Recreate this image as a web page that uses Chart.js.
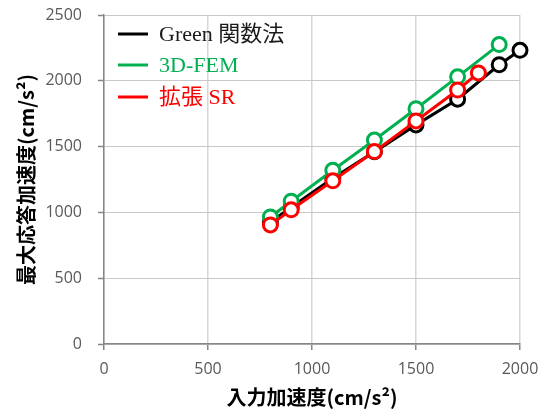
<!DOCTYPE html>
<html>
<head>
<meta charset="utf-8">
<script src="https://cdn.jsdelivr.net/npm/chart.js@4/dist/chart.umd.min.js"></script>
<style>
  html, body { margin: 0; padding: 0; background: #ffffff; }
  #wrap { width: 547px; height: 412px; }
</style>
</head>
<body>
<div id="wrap"><canvas id="c" width="547" height="412"></canvas></div>
<script>
// Input acceleration (cm/s²) for each series
const greenFnX = [800, 900, 1100, 1300, 1500, 1700, 1900, 2000];
const femX     = [800, 900, 1100, 1300, 1500, 1700, 1900];
const srX      = [800, 900, 1100, 1300, 1500, 1700, 1800];

// Maximum response acceleration (cm/s²)
const greenFnY = [925, 1040, 1260, 1460, 1665, 1860, 2122, 2232];
const femY     = [965, 1085, 1320, 1550, 1788, 2030, 2275];
const srY      = [905, 1020, 1240, 1462, 1695, 1930, 2060];

const seriesLabels = ['Green 関数法', '3D-FEM', '拡張 SR'];
const seriesColors = ['#000000', '#00B050', '#FF0000'];

const xTicks = [0, 500, 1000, 1500, 2000];
const yTicks = [0, 500, 1000, 1500, 2000, 2500];

const toPoints = (xs, ys) => xs.map((x, i) => ({ x: x, y: ys[i] }));

function seriesStyle(color, order) {
  return {
    borderColor: color,
    backgroundColor: '#ffffff',
    pointBorderColor: color,
    pointBackgroundColor: '#ffffff',
    borderWidth: 3,
    pointRadius: 7,
    pointBorderWidth: 3,
    pointHoverRadius: 7,
    showLine: true,
    tension: 0,
    clip: false,
    order: order
  };
}

// Legend drawn inside the plot, one row per series, text in series colour
const insideLegend = {
  id: 'insideLegend',
  afterDatasetsDraw(chart) {
    const ctx = chart.ctx;
    const x0 = 118, lineLen = 30, textX = 159;
    const rows = [34, 65, 97];
    ctx.save();
    ctx.font = '22px "Liberation Serif", "Noto Sans CJK JP", serif';
    ctx.textBaseline = 'middle';
    ctx.textAlign = 'left';
    chart.data.datasets.forEach((ds, i) => {
      const y = rows[i];
      ctx.strokeStyle = ds.borderColor;
      ctx.lineWidth = 3;
      ctx.beginPath();
      ctx.moveTo(x0, y);
      ctx.lineTo(x0 + lineLen, y);
      ctx.stroke();
      ctx.fillStyle = ds.borderColor === '#000000' ? '#1a1a1a' : ds.borderColor;
      ctx.fillText(ds.label, textX, y + 1);
    });
    ctx.restore();
  }
};

const tickFont = { family: '"Open Sans", "Liberation Sans", sans-serif', size: 16 };
const titleFont = { family: '"Noto Sans CJK JP", sans-serif', size: 20, weight: 'bold' };
const plainNumber = v => String(v);

new Chart(document.getElementById('c'), {
  type: 'scatter',
  data: {
    datasets: [
      Object.assign({ label: seriesLabels[0], data: toPoints(greenFnX, greenFnY) }, seriesStyle(seriesColors[0], 3)),
      Object.assign({ label: seriesLabels[1], data: toPoints(femX, femY) }, seriesStyle(seriesColors[1], 2)),
      Object.assign({ label: seriesLabels[2], data: toPoints(srX, srY) }, seriesStyle(seriesColors[2], 1))
    ]
  },
  options: {
    responsive: false,
    animation: false,
    devicePixelRatio: 1,
    layout: { padding: { left: 0, right: 27, top: 15, bottom: 0 } },
    plugins: {
      legend: { display: false },
      tooltip: { enabled: false }
    },
    scales: {
      x: {
        type: 'linear',
        min: xTicks[0],
        max: xTicks[xTicks.length - 1],
        afterBuildTicks: s => { s.ticks = xTicks.map(v => ({ value: v })); },
        afterFit: s => { s.height = 68; s.paddingLeft = 0; s.paddingRight = 0; },
        ticks: { font: tickFont, color: '#595959', padding: 10, maxRotation: 0, callback: plainNumber },
        grid: { color: '#d6d6d6', lineWidth: 1.5, tickLength: 6, tickColor: '#868686', tickWidth: 1.5 },
        border: { color: '#868686', width: 1.5 },
        title: {
          display: true,
          text: '入力加速度(cm/s²)',
          font: titleFont,
          color: '#000000',
          padding: { top: 0, bottom: 3 }
        }
      },
      y: {
        type: 'linear',
        min: yTicks[0],
        max: yTicks[yTicks.length - 1],
        afterBuildTicks: s => { s.ticks = yTicks.map(v => ({ value: v })); },
        afterFit: s => { s.width = 104; s.paddingTop = 0; s.paddingBottom = 0; },
        ticks: { font: tickFont, color: '#595959', padding: 16, callback: plainNumber },
        grid: { color: '#c8c8c8', lineWidth: 1, tickLength: 6, tickColor: '#868686', tickWidth: 1.5 },
        border: { color: '#868686', width: 1.5 },
        title: {
          display: true,
          text: '最大応答加速度(cm/s²)',
          font: titleFont,
          color: '#000000',
          padding: { top: 14, bottom: 0 }
        }
      }
    }
  },
  plugins: [insideLegend]
});
</script>
</body>
</html>
